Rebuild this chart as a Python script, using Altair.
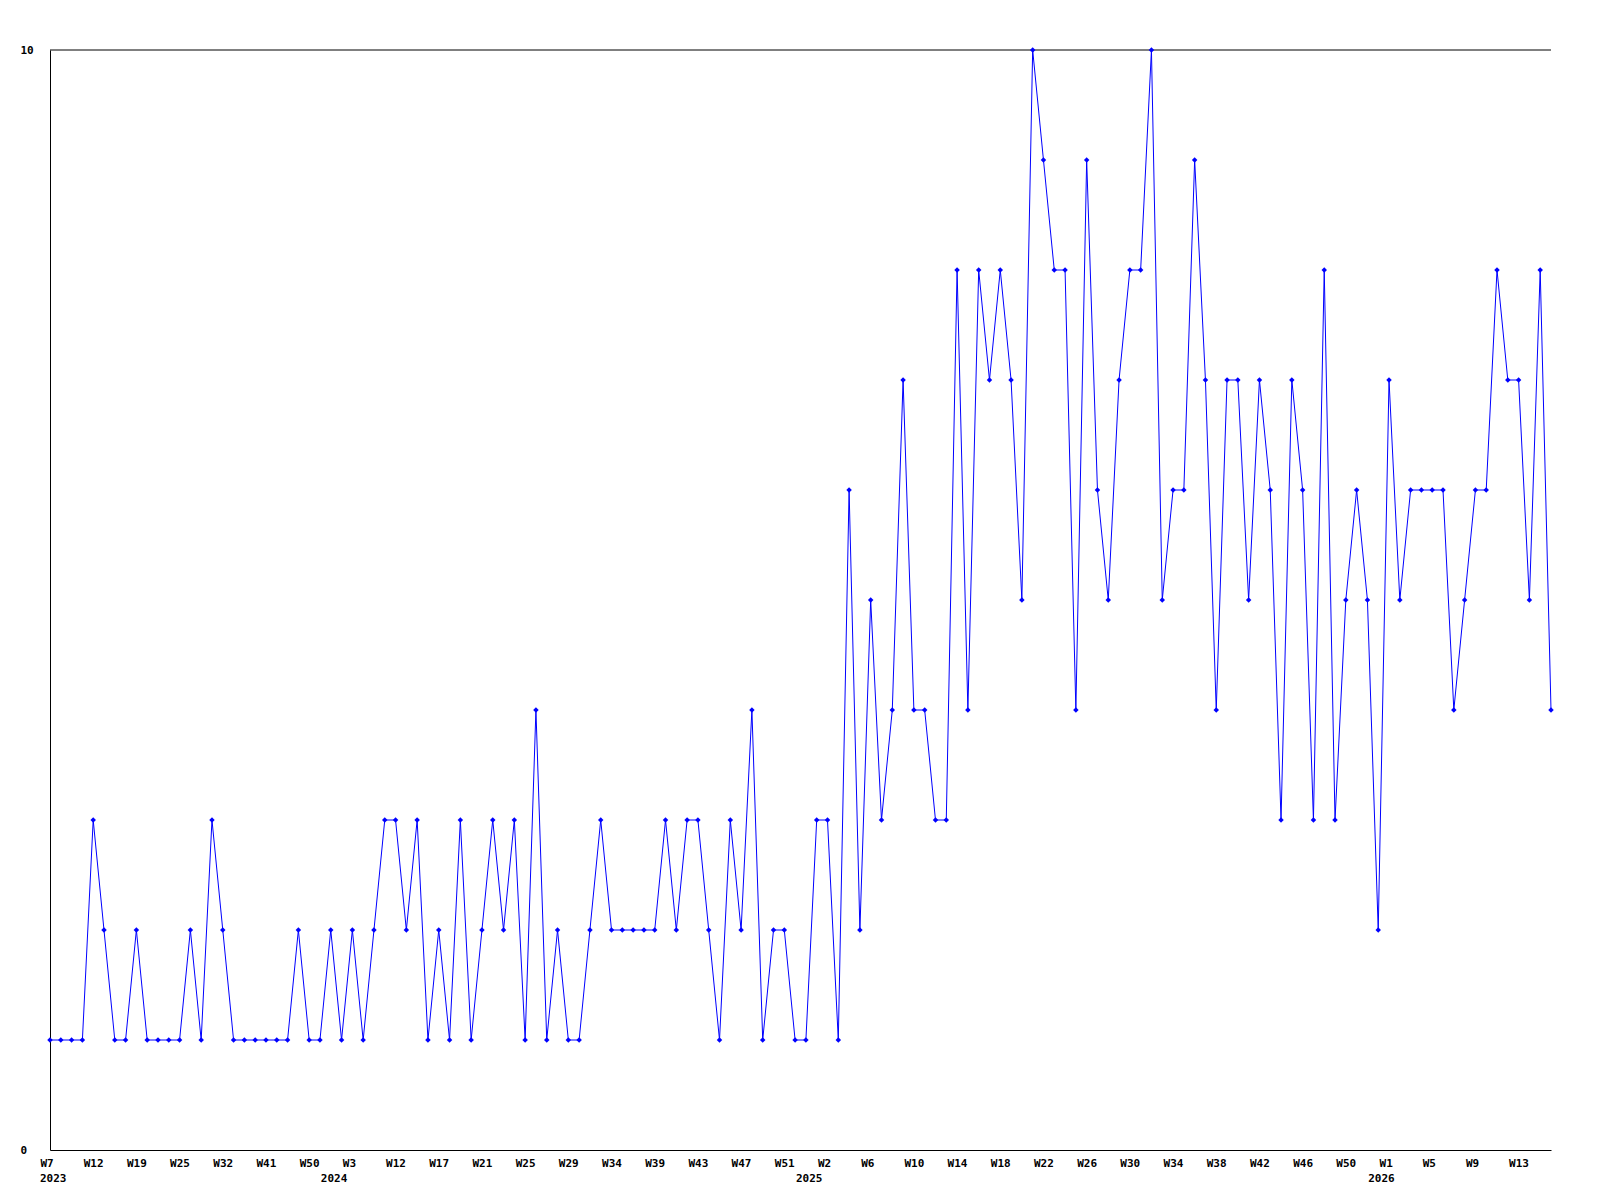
import altair as alt
import pandas as pd

# Weekly values (one point per week present in the data)
values = [
    1, 1, 1, 1, 3, 2, 1, 1, 2, 1, 1, 1, 1, 2, 1, 3, 2, 1, 1, 1, 1, 1, 1, 2, 1,
    1, 2, 1, 2, 1, 2, 3, 3, 2, 3, 1, 2, 1, 3, 1, 2, 3, 2, 3, 1, 4, 1, 2, 1,
    1, 2, 3, 2, 2, 2, 2, 2, 3, 2, 3, 3, 2, 1, 3, 2, 4, 1, 2, 2, 1, 1, 3, 3,
    1, 6, 2, 5, 3, 4, 7, 4, 4, 3, 3, 8, 4, 8, 7, 8, 7, 5, 10, 9, 8, 8, 4, 9,
    6, 5, 7, 8, 8, 10, 5, 6, 6, 9, 7, 4, 7, 7, 5, 7, 6, 3, 7, 6, 3, 8, 3, 5,
    6, 5, 2, 7, 5, 6, 6, 6, 6, 4, 5, 6, 6, 8, 7, 7, 5, 8, 4,
]

# Tick labels, one every 4th point
week_tick_labels = [
    "W7", "W12", "W19", "W25", "W32", "W41", "W50",
    "W3", "W12", "W17", "W21", "W25", "W29", "W34", "W39", "W43", "W47", "W51",
    "W2", "W6", "W10", "W14", "W18", "W22", "W26", "W30", "W34", "W38", "W42", "W46", "W50",
    "W1", "W5", "W9", "W13",
]
tick_step = 4

# Year labels, placed at the first point of each year
years = ["2023", "2024", "2025", "2026"]
year_first_index = [0, 26, 70, 123]

y_tick_values = [0, 10]

df = pd.DataFrame({"i": list(range(len(values))), "v": values})
ydf = pd.DataFrame({"i": year_first_index, "year": years})
top_df = pd.DataFrame({"k": [0]})

W, H = 1501, 1100
FONT = "DejaVu Sans Mono"
FS = 11
BLUE = "#0000FF"

xscale = alt.Scale(domain=[0, len(values) - 1], nice=False, zero=False)
yscale = alt.Scale(domain=[0, 10], nice=False, zero=True)

label_js = "[" + ",".join(f"'{s}'" for s in week_tick_labels) + "]"
tick_positions = [k * tick_step for k in range(len(week_tick_labels))]

x_axis = alt.Axis(
    values=tick_positions,
    labelExpr=f"{label_js}[round(datum.value / {tick_step})]",
    title=None, grid=False, ticks=False, tickSize=0,
    domain=True, domainColor="black", domainWidth=1,
    labelFont=FONT, labelFontSize=FS, labelFontWeight="bold", labelColor="black",
    labelAlign="left", labelOffset=-10, labelBaseline="top", labelPadding=7,
    labelOverlap=False, labelFlush=False, labelBound=False,
)
y_axis = alt.Axis(
    values=y_tick_values, title=None, grid=False, ticks=False, tickSize=0,
    domain=True, domainColor="black", domainWidth=1,
    labelFont=FONT, labelFontSize=FS, labelFontWeight="bold", labelColor="black",
    labelAlign="left", labelBaseline="middle", labelPadding=30,
    labelOverlap=False, labelFlush=False, labelBound=False,
)

base = alt.Chart(df).encode(
    x=alt.X("i:Q", scale=xscale, axis=x_axis),
    y=alt.Y("v:Q", scale=yscale, axis=y_axis),
)

line = base.mark_line(color=BLUE, strokeWidth=1, clip=False)
pts = base.mark_point(shape="diamond", filled=True, size=30, color=BLUE, opacity=1, clip=False)

top_rule = alt.Chart(top_df).mark_rule(color="black", strokeWidth=1).encode(
    x=alt.value(0), x2=alt.value(W), y=alt.value(0)
)

year_text = alt.Chart(ydf).mark_text(
    align="left", baseline="top", dx=-10, font=FONT, fontSize=FS,
    fontWeight="bold", color="black",
).encode(
    x=alt.X("i:Q", scale=xscale, axis=x_axis),
    y=alt.value(H + 23),
    text="year:N",
)

chart = alt.layer(top_rule, line, pts, year_text).properties(
    width=W, height=H,
    autosize=alt.AutoSizeParams(type="none"),
    padding={"left": 42, "top": 42, "right": 40, "bottom": 50},
    background="white",
).configure_view(stroke=None)

chart.save("out.html", embed_options={"renderer": "svg", "actions": False})
